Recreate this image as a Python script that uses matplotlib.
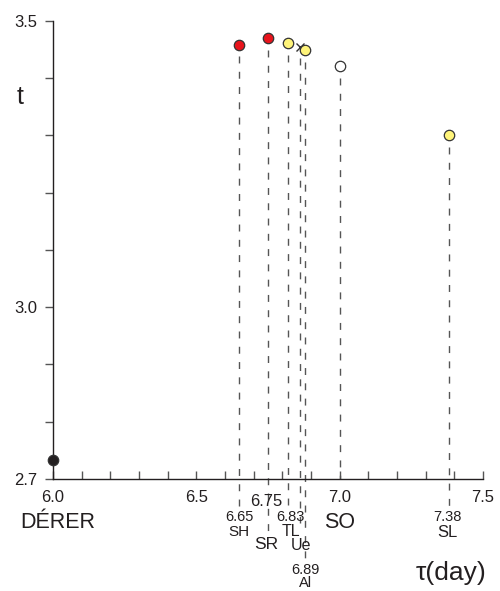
import matplotlib
matplotlib.use("Agg")
import matplotlib.pyplot as plt
from matplotlib.ticker import MultipleLocator
import matplotlib.transforms as mtransforms

plt.rcParams["font.family"] = ["Liberation Sans", "DejaVu Sans"]

# data
names = ["DÉRER", "SH", "SR", "TL", "Ue", "Al", "SO", "SL"]
tau = [6.00, 6.65, 6.75, 6.82, 6.86, 6.88, 7.00, 7.38]
tval = [2.733, 3.458, 3.470, 3.461, 3.455, 3.449, 3.421, 3.300]
markers = ["o", "o", "o", "o", "x", "o", "o", "o"]
colors = ["#231F20", "#E8141C", "#E8141C", "#FFF47A", "#333333", "#FFF47A", "#FFFFFF", "#FFF47A"]
value_labels = ["", "6.65", "6.75", "6.83", "", "6.89", "", "7.38"]

fig = plt.figure(figsize=(5.0, 5.91), dpi=100)
ax = fig.add_axes([0.106, 0.1895, 0.86, 0.775])
ax.set_xlim(6.0, 7.5)
ax.set_ylim(2.7, 3.5)
for s in ["top", "right"]:
    ax.spines[s].set_visible(False)
for s in ["left", "bottom"]:
    ax.spines[s].set_color("#231F20")
    ax.spines[s].set_linewidth(1.0)

ax.set_xticks([6.0, 6.5, 7.0, 7.5])
ax.xaxis.set_minor_locator(MultipleLocator(0.1))
ax.set_xticklabels(["6.0", "6.5", "7.0", "7.5"])
ax.set_yticks([3.5, 3.0, 2.7])
ax.yaxis.set_minor_locator(MultipleLocator(0.1))
ax.set_yticklabels(["3.5", "3.0", "2.7"])
ax.tick_params(axis="x", which="both", direction="in", length=6, width=1,
               color="#555555", labelsize=12, pad=8, labelcolor="#231F20")
ax.tick_params(axis="y", which="both", direction="out", length=6, width=1,
               color="#555555", labelsize=12, pad=5, labelcolor="#231F20")

trans = mtransforms.blended_transform_factory(ax.transData, ax.transAxes)
# dashed line bottoms (axes fraction)
bottoms = [None, -0.068, -0.116, -0.057, -0.096, -0.172, 0.0, -0.068]
for x, y, b in zip(tau, tval, bottoms):
    if b is None:
        continue
    top_frac = (y - 2.7) / 0.8 - 0.025
    ax.plot([x, x], [top_frac, b], transform=trans, color="#555555",
            lw=1.0, ls=(0, (5, 6)), clip_on=False, zorder=2)

for x, y, m, c in zip(tau, tval, markers, colors):
    if m == "x":
        ax.plot(x, y, marker="x", ms=6, mew=1.0, color=c, clip_on=False, zorder=4, ls="none")
    else:
        ax.plot(x, y, marker="o", ms=7.5, mfc=c, mec="#333333", mew=0.9,
                clip_on=False, zorder=5, ls="none")

txt = "#231F20"
def lab(x, yfrac, s, size):
    ax.text(x, yfrac, s, transform=trans, ha="center", va="center",
            fontsize=size, color=txt, clip_on=False)

lab(tau[0] + 0.015, -0.094, names[0], 15.5)
lab(tau[1], -0.082, value_labels[1], 10.5)
lab(tau[1], -0.115, names[1], 11)
lab(tau[2] - 0.005, -0.050, value_labels[2], 12)
lab(tau[2] - 0.005, -0.144, names[2], 12.5)
lab(tau[3] + 0.01, -0.082, value_labels[3], 10.5)
lab(tau[3] + 0.01, -0.114, names[3], 11.5)
lab(tau[4] + 0.005, -0.146, names[4], 11.5)
lab(tau[5], -0.198, value_labels[5], 10.5)
lab(tau[5], -0.226, names[5], 10.5)
lab(tau[6], -0.096, names[6], 15.5)
lab(tau[7] - 0.003, -0.082, value_labels[7], 10.5)
lab(tau[7] - 0.003, -0.116, names[7], 12)

ax.text(7.39, -0.205, "τ(day)", transform=trans, ha="center", va="center",
        fontsize=19, color=txt, clip_on=False)
ax.text(-0.077, 0.835, "t", transform=ax.transAxes, ha="center", va="center",
        fontsize=18, color=txt, clip_on=False)

fig.savefig("out.png", dpi=100)
